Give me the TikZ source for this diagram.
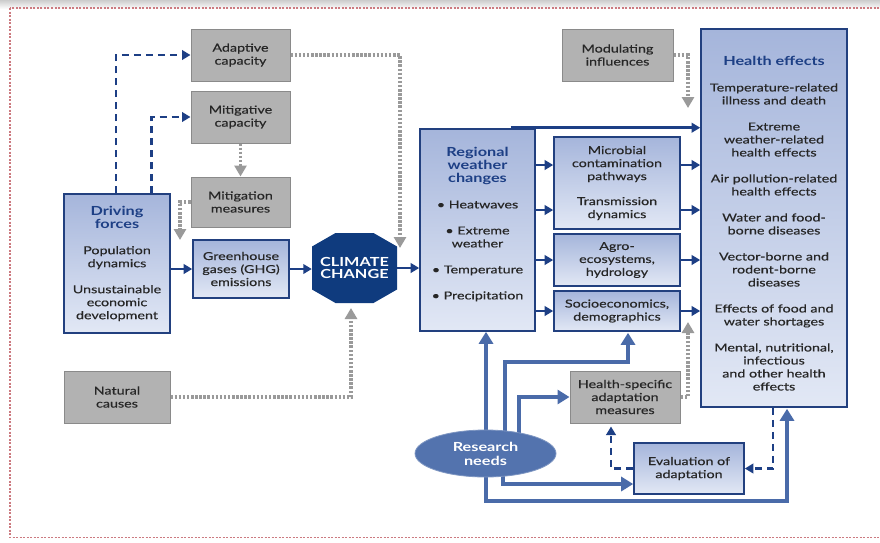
\documentclass[tikz,border=0pt]{standalone}
\usepackage{fontspec}
\setmainfont{Lato}[FakeStretch=1.3, UprightFeatures={FakeBold=0.35}]
\usetikzlibrary{arrows.meta,shapes.geometric,calc}
\definecolor{dblue}{HTML}{1D3F85}
\definecolor{bdr}{HTML}{22407F}
\definecolor{btop}{HTML}{A5B5DB}
\definecolor{bbot}{HTML}{E2E8F5}
\definecolor{gfill}{HTML}{B2B2B2}
\definecolor{gdraw}{HTML}{8A8A8A}
\definecolor{gline}{HTML}{9A9A9A}
\definecolor{mblue}{HTML}{4A6BA9}
\definecolor{ccblue}{HTML}{0F3B7E}
\definecolor{rnblue}{HTML}{5373AE}
\definecolor{txt}{HTML}{262626}
\definecolor{framec}{HTML}{CC7A80}
\newcommand\hdtitle[1]{{\fontsize{12.5}{13}\selectfont\bfseries\color{dblue}#1}}
\begin{document}
\begin{tikzpicture}[x=1pt,y=-1pt,
  every node/.style={font=\fontsize{11}{13}\selectfont, text=txt, align=center, inner sep=0pt},
  bluebox/.style={draw=bdr, line width=1.6pt, top color=btop, bottom color=bbot},
  greybox/.style={draw=gdraw, line width=1pt, fill=gfill},
  conn/.style={draw=dblue, line width=2.6pt, -{Triangle[length=8.5pt,width=9.5pt]}},
  rconn/.style={draw=mblue, line width=4.2pt, -{Triangle[length=12pt,width=14pt]}},
  gdot/.style={draw=gline, line width=3.5pt, dash pattern=on 2.5pt off 1.6pt, -{Triangle[length=11pt,width=12pt]}},
  bdash/.style={draw=dblue, line width=2.8pt, dash pattern=on 7pt off 5pt, -{Triangle[length=8.5pt,width=9.5pt]}}
]
\fill[white] (0,0) rectangle (880,542);
\useasboundingbox (0,0) rectangle (880,542);
\shade[top color=gray!40, bottom color=white] (0,0) rectangle (880,9);
\draw[framec, line width=1.1pt, dash pattern=on 2pt off 1.5pt] (10,8) rectangle (888,537.5);

% boxes
\node[greybox, minimum width=99, minimum height=52] (adapt) at (240.5,55) {Adaptive\\capacity};
\node[greybox, minimum width=99, minimum height=52] (mitcap) at (240.5,117) {Mitigative\\capacity};
\node[greybox, minimum width=99, minimum height=50] (mitmeas) at (240.5,202) {Mitigation\\measures};
\node[bluebox, minimum width=106, minimum height=139] (drive) at (117,263.5) {\hdtitle{Driving}\\\hdtitle{forces}\\[13pt]Population\\dynamics\\[13pt]Unsustainable\\economic\\development};
\node[bluebox, minimum width=96, minimum height=58] (ghg) at (241,269) {Greenhouse\\gases (GHG)\\emissions};
\node[greybox, minimum width=106, minimum height=52] (natural) at (117,397) {Natural\\causes};
\fill[ccblue] (335.5,233) -- (373.5,233) -- (397,246.5) -- (397,289.5) -- (373.5,303) -- (335.5,303) -- (312,289.5) -- (312,246.5) -- cycle;
\node[minimum width=85, minimum height=70, font=\fontsize{12.5}{12.5}\selectfont\bfseries, text=white] (cc) at (354.5,268) {CLIMATE\\CHANGE};
\node[bluebox, minimum width=115, minimum height=202] (reg) at (477.5,230) {\hdtitle{Regional}\\\hdtitle{weather}\\\hdtitle{changes}\\[13pt]• Heatwaves\\[13pt]• Extreme\\weather\\[13pt]• Temperature\\[13pt]• Precipitation\rule[-13.5pt]{0pt}{1pt}};
\node[bluebox, minimum width=126, minimum height=92] (micro) at (617,183) {Microbial\\contamination\\pathways\\[12pt]Transmission\\dynamics};
\node[bluebox, minimum width=126, minimum height=52] (agro) at (617,260) {Agro-\\ecosystems,\\hydrology};
\node[bluebox, minimum width=126, minimum height=40] (socio) at (617,311) {Socioeconomics,\\demographics};
\node[greybox, minimum width=111, minimum height=52] (mod) at (617.5,55) {Modulating\\influences};
\node[bluebox, minimum width=146, minimum height=378] (he) at (774,218) {\rule{0pt}{20pt}\hdtitle{Health effects}\\[13pt]Temperature-related\\illness and death\\[13pt]Extreme\\weather-related\\health effects\\[13pt]Air pollution-related\\health effects\\[13pt]Water and food-\\borne diseases\\[13pt]Vector-borne and\\rodent-borne\\diseases\\[13pt]Effects of food and\\water shortages\\[13pt]Mental, nutritional,\\infectious\\and other health\\effects};
\node[greybox, minimum width=110, minimum height=52] (hsa) at (625,397) {Health-specific\\adaptation\\measures};
\node[bluebox, minimum width=110, minimum height=51] (eval) at (689,468.5) {Evaluation of\\adaptation};

% coordinates
\coordinate (gtip) at (180,240);
\coordinate (cctip) at (400,248);
\coordinate (nctip) at (351,308);
\coordinate (modtip) at (688,108);
\coordinate (hsatip) at (688,322);
\coordinate (y165) at (0,165);
\coordinate (y210) at (0,210);
\coordinate (x116) at (116,0);
\coordinate (x628) at (628,0);
\coordinate (ra) at (486,445);
\coordinate (rb) at (505,445);
\coordinate (rc) at (519,445);
\coordinate (rd) at (503,455);
\coordinate (rbot) at (0,501);
\coordinate (rsoc) at (0,362);
\coordinate (reval) at (0,484);

% dashed dark blue
\draw[bdash] (drive.north -| x116) |- (adapt.west);
\draw[bdash] ($(drive.north east)+(-19,0)$) |- (mitcap.west);
\draw[bdash] (eval.west) -| ($(hsa.south)+(-14,3)$);
\draw[bdash] ($(he.south)+(-1,0)$) |- (eval.east);

% grey dotted
\draw[gdot] (mitcap.south) -- (mitmeas.north);
\draw[gdot] (mitmeas.west) -| (gtip);
\draw[gdot] (adapt.east) -| (cctip);
\draw[gdot] (natural.east) -| (nctip);
\draw[gdot] (mod.east) -| (modtip);
\draw[gdot] (hsa.east) -| (hsatip);

% solid dark blue
\draw[conn] (drive.east |- ghg.west) -- (ghg.west);
\draw[conn] (ghg.east) -- (ghg.east -| cc.west);
\draw[conn] (cc.east) -- (cc.east -| reg.west);
\draw[conn] ($(reg.north east)+(-25,-0.5)$) -- ($(reg.north east -| he.west)+(0,-0.5)$);
\draw[conn] (reg.east |- y165) -- (micro.west |- y165);
\draw[conn] (reg.east |- y210) -- (micro.west |- y210);
\draw[conn] (reg.east |- agro.west) -- (agro.west);
\draw[conn] (reg.east |- socio.west) -- (socio.west);
\draw[conn] (micro.east |- y165) -- (he.west |- y165);
\draw[conn] (micro.east |- y210) -- (he.west |- y210);
\draw[conn] (agro.east) -- (agro.east -| he.west);
\draw[conn] (socio.east) -- (socio.east -| he.west);

% research needs
\draw[rconn] (ra) -- (ra |- reg.south);
\draw[rconn] (ra) -- (ra |- rbot) -| ($(he.south)+(13,1)$);
\draw[rconn] (rb) |- (rsoc -| x628) -- ($(socio.south -| x628)+(0,1)$);
\draw[rconn] (rc) |- (hsa.west);
\draw[rconn] (rd) |- (reval -| eval.west);
\node[ellipse, fill=rnblue, draw=rnblue!75!white, line width=0.8pt, minimum width=141, minimum height=47, text=white, font=\fontsize{12.5}{14}\selectfont\bfseries] (rn) at (485.5,453.5) {Research\\needs};
\end{tikzpicture}
\end{document}
